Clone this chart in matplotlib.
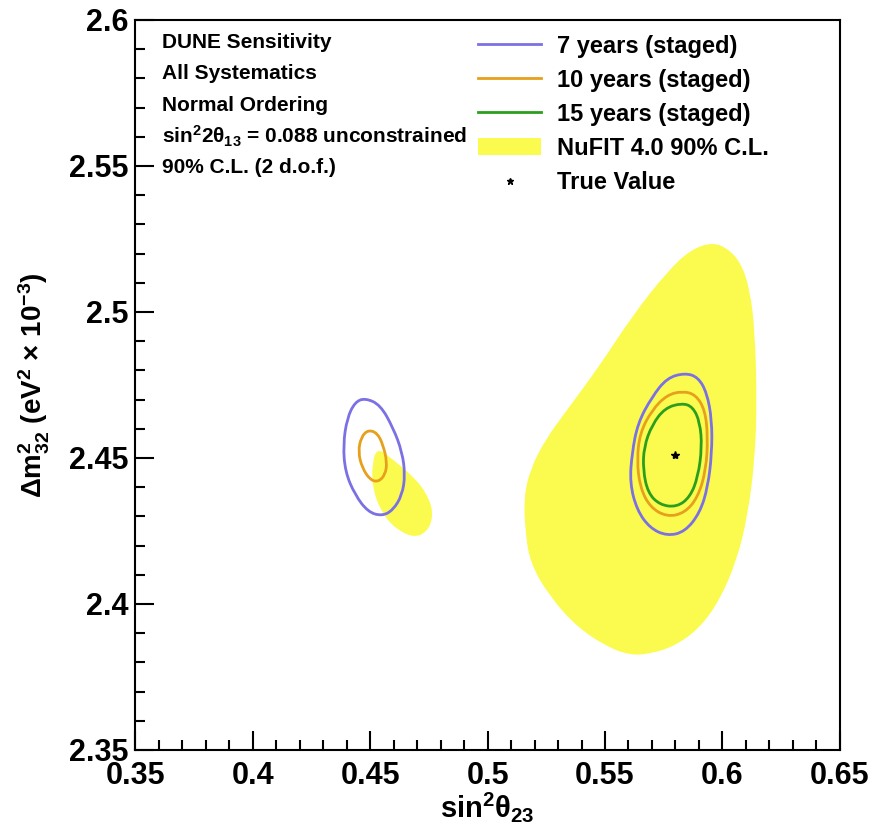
import numpy as np
import matplotlib
matplotlib.use('Agg')
import matplotlib.pyplot as plt
from matplotlib.path import Path
from matplotlib.patches import PathPatch, Patch
from matplotlib.lines import Line2D

plt.rcParams['font.family'] = ['Liberation Sans', 'DejaVu Sans']
plt.rcParams['font.weight'] = 'bold'
plt.rcParams['axes.labelweight'] = 'bold'
plt.rcParams['mathtext.fontset'] = 'custom'
plt.rcParams['mathtext.rm'] = 'Liberation Sans:bold'
plt.rcParams['mathtext.it'] = 'Liberation Sans:bold'
plt.rcParams['mathtext.bf'] = 'Liberation Sans:bold'

# contour outlines (sin^2 theta23, dm2_32 x 1e-3)
nufit_upper_x = [0.5960, 0.6032, 0.6083, 0.6117, 0.6138, 0.6147, 0.6138, 0.6108, 0.6062,
                 0.5989, 0.5904, 0.5798, 0.5691, 0.5606, 0.5509, 0.5381, 0.5266, 0.5181,
                 0.5160, 0.5155, 0.5181, 0.5245, 0.5338, 0.5479, 0.5619, 0.5764, 0.5862]
nufit_upper_y = [2.5240, 2.5212, 2.5161, 2.5075, 2.4938, 2.4699, 2.4493, 2.4305, 2.4151,
                 2.4014, 2.3918, 2.3856, 2.3829, 2.3825, 2.3853, 2.3921, 2.4024, 2.4140,
                 2.4253, 2.4366, 2.4459, 2.4562, 2.4664, 2.4818, 2.4990, 2.5137, 2.5212]
nufit_lower_x = [0.4530, 0.4585, 0.4700, 0.4755, 0.4768, 0.4743, 0.4683, 0.4598, 0.4543,
                 0.4509, 0.4509]
nufit_lower_y = [2.4534, 2.4503, 2.4425, 2.4356, 2.4298, 2.4247, 2.4226, 2.4264, 2.4322,
                 2.4401, 2.4483]

y7_lo_x = [0.4479, 0.4543, 0.4598, 0.4636, 0.4649, 0.4636, 0.4598, 0.4551, 0.4491, 0.4436,
           0.4394, 0.4385, 0.4402, 0.4436]
y7_lo_y = [2.4705, 2.4682, 2.4603, 2.4521, 2.4442, 2.4373, 2.4322, 2.4301, 2.4315, 2.4373,
           2.4452, 2.4545, 2.4637, 2.4692]
y10_lo_x = [0.4491, 0.4530, 0.4555, 0.4572, 0.4564, 0.4534, 0.4500, 0.4466, 0.4449, 0.4462]
y10_lo_y = [2.4596, 2.4586, 2.4545, 2.4486, 2.4442, 2.4418, 2.4425, 2.4466, 2.4521, 2.4572]

y7_hi_x = [0.5840, 0.5896, 0.5934, 0.5955, 0.5955, 0.5938, 0.5904, 0.5840, 0.5764, 0.5691,
           0.5636, 0.5606, 0.5615, 0.5640, 0.5700, 0.5764]
y7_hi_y = [2.4791, 2.4777, 2.4723, 2.4630, 2.4517, 2.4401, 2.4312, 2.4247, 2.4233, 2.4260,
           2.4322, 2.4414, 2.4517, 2.4620, 2.4709, 2.4774]
y10_hi_x = [0.5832, 0.5887, 0.5926, 0.5938, 0.5930, 0.5896, 0.5840, 0.5764, 0.5691, 0.5649,
            0.5636, 0.5649, 0.5700, 0.5764]
y10_hi_y = [2.4729, 2.4716, 2.4664, 2.4572, 2.4459, 2.4366, 2.4312, 2.4298, 2.4332, 2.4401,
            2.4493, 2.4586, 2.4664, 2.4716]
y15_hi_x = [0.5828, 0.5874, 0.5904, 0.5913, 0.5896, 0.5862, 0.5806, 0.5734, 0.5683, 0.5662,
            0.5666, 0.5700, 0.5755]
y15_hi_y = [2.4688, 2.4675, 2.4623, 2.4538, 2.4435, 2.4366, 2.4332, 2.4339, 2.4380, 2.4459,
            2.4538, 2.4613, 2.4671]

true_x = [0.580]
true_y = [2.451]

labels = ['7 years (staged)', '10 years (staged)', '15 years (staged)',
          'NuFIT 4.0 90% C.L.', 'True Value']
info_lines = ['DUNE Sensitivity', 'All Systematics', 'Normal Ordering',
              r'sin$^{2}$2$\theta_{13}$ = 0.088 unconstrained', '90% C.L. (2 d.o.f.)']

c7 = '#7b70e4'
c10 = '#e6a01c'
c15 = '#2b9e1e'
cyel = '#fbfb4f'


def smooth_path(xs, ys):
    pts = np.column_stack([xs, ys])
    mids = (pts + np.roll(pts, -1, axis=0)) / 2
    verts = [mids[-1]]
    codes = [Path.MOVETO]
    for p, m in zip(pts, mids):
        verts += [p, m]
        codes += [Path.CURVE3, Path.CURVE3]
    return Path(verts, codes)


fig = plt.figure(figsize=(8.73, 8.32), dpi=100)
ax = fig.add_axes([0.155, 0.0986, 0.807, 0.8774])

for xs, ys in [(nufit_upper_x, nufit_upper_y), (nufit_lower_x, nufit_lower_y)]:
    ax.add_patch(PathPatch(smooth_path(xs, ys), facecolor=cyel, edgecolor='none', zorder=1))

for xs, ys, c in [(y7_lo_x, y7_lo_y, c7), (y10_lo_x, y10_lo_y, c10),
                  (y7_hi_x, y7_hi_y, c7), (y10_hi_x, y10_hi_y, c10),
                  (y15_hi_x, y15_hi_y, c15)]:
    ax.add_patch(PathPatch(smooth_path(xs, ys), fill=False, edgecolor=c, lw=2.0, zorder=2))

ax.plot(true_x, true_y, marker='*', color='black', ms=6, ls='none', zorder=3)

ax.set_xlim(0.35, 0.65)
ax.set_ylim(2.35, 2.6)
ax.set_xticks(np.arange(0.35, 0.651, 0.05))
ax.set_xticklabels(['0.35', '0.4', '0.45', '0.5', '0.55', '0.6', '0.65'])
ax.set_yticks(np.arange(2.35, 2.601, 0.05))
ax.set_yticklabels(['2.35', '2.4', '2.45', '2.5', '2.55', '2.6'])
ax.set_xticks(np.arange(0.35, 0.651, 0.01), minor=True)
ax.set_yticks(np.arange(2.35, 2.601, 0.01), minor=True)
ax.tick_params(which='both', direction='in', width=1.5, top=False, right=False)
ax.tick_params(which='major', length=14)
ax.tick_params(which='minor', length=7)
ax.tick_params(axis='x', which='major', labelsize=22, pad=8)
ax.tick_params(axis='y', which='major', labelsize=22, pad=5)
for s in ax.spines.values():
    s.set_linewidth(1.5)

ax.set_xlabel(r'sin$^{2}\theta_{23}$', fontsize=21, fontweight='bold')
ax.xaxis.set_label_coords(0.5, -0.055)
ax.set_ylabel(r'$\Delta$m$^{2}_{32}$ (eV$^{2}$ $\times$ 10$^{-3}$)', fontsize=20,
              fontweight='bold')
ax.yaxis.set_label_coords(-0.118, 0.5)

for i, line in enumerate(info_lines):
    ax.text(0.038, 0.9685 - i * 0.0425, line, transform=ax.transAxes,
            fontsize=15, va='center', ha='left', fontweight='bold')

handles = [Line2D([], [], color=c7, lw=2.0), Line2D([], [], color=c10, lw=2.0),
           Line2D([], [], color=c15, lw=2.0), Patch(facecolor=cyel, edgecolor='none'),
           Line2D([], [], marker='*', color='black', ms=5, ls='none')]
ax.legend(handles, labels, loc='upper left', bbox_to_anchor=(0.486, 0.980),
          frameon=False, fontsize=17, handlelength=2.7, handletextpad=0.64,
          labelspacing=0.47, borderpad=0, borderaxespad=0)

fig.savefig('out.png', dpi=100)
